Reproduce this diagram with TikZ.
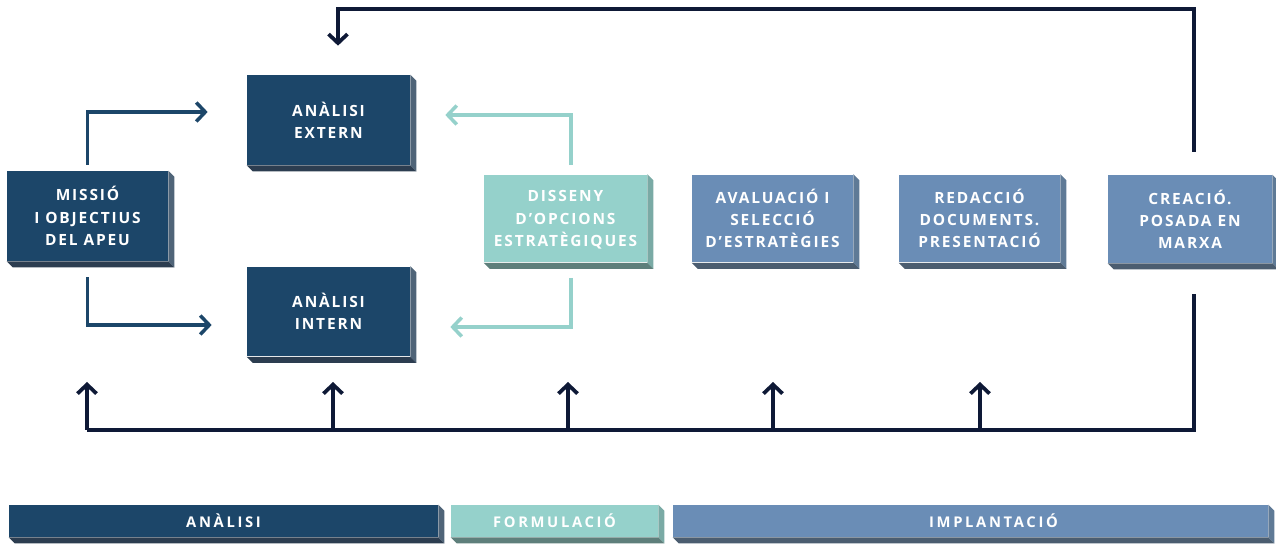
\documentclass[tikz,border=0pt]{standalone}
\usepackage{fontspec}
\setmainfont{Open Sans}
\newfontfamily\blocfont{Open Sans}[LetterSpace=12]
\newfontfamily\barfont{Open Sans}[LetterSpace=18]
\usetikzlibrary{arrows.meta,calc}

\definecolor{navy}{HTML}{1C4669}
\definecolor{navyR}{HTML}{4F6478}
\definecolor{navyB}{HTML}{2C3D50}
\definecolor{teal}{HTML}{95D1CB}
\definecolor{tealR}{HTML}{7AAAA5}
\definecolor{tealB}{HTML}{5E7F7B}
\definecolor{steel}{HTML}{6A8DB6}
\definecolor{steelR}{HTML}{5F7A96}
\definecolor{steelB}{HTML}{4B5D70}
\definecolor{ink}{HTML}{0E1936}

% shadow on the right and bottom of a box
\newcommand{\blocshadow}[3]{%
\fill[#2] (#1.north east) -- ++(6,6) -- ($(#1.south east)+(6,6)$) -- (#1.south east) -- cycle;
\fill[#3] (#1.south west) -- (#1.south east) -- ($(#1.south east)+(6,6)$) -- ($(#1.south west)+(6,6)$) -- cycle;
}

\tikzset{
bloc/.style={align=center,inner sep=0pt,text=white,font=\blocfont\bfseries\fontsize{8.8}{12.6}\selectfont,minimum width=3.26cm,minimum height=1.76cm},
bar/.style={inner sep=0pt,text=white,font=\barfont\bfseries\fontsize{8.4}{9}\selectfont,minimum height=.64cm},
navyflow/.style={draw=navy,line width=.07cm,-{Straight Barb[length=1.8mm,width=3.8mm]}},
tealflow/.style={draw=teal,line width=.07cm,-{Straight Barb[length=1.8mm,width=3.8mm]}},
inkflow/.style={draw=ink,line width=.075cm,-{Straight Barb[length=1.8mm,width=3.8mm]}}
}

\begin{document}
\begin{tikzpicture}[x=.02cm,y=-.02cm]
\useasboundingbox (0,0) rectangle (1276,547);

% boxes
\node[bloc,fill=navy,minimum width=3.22cm,minimum height=1.8cm] (missio) at (87.5,216) {MISSIÓ\\I OBJECTIUS\\DEL APEU};
\node[bloc,fill=navy,minimum height=1.8cm] (extern) at (328.5,120) {ANÀLISI\\EXTERN};
\node[bloc,fill=navy,minimum height=1.8cm] (intern) at (328.5,311.5) {ANÀLISI\\INTERN};
\node[bloc,fill=teal,text depth=-.1cm] (disseny) at (565.5,218.5) {DISSENY\\D’OPCIONS\\ESTRATÈGIQUES};
\node[bloc,fill=steel,minimum width=3.22cm] (avaluacio) at (772.5,218.5) {AVALUACIÓ I\\SELECCIÓ\\D’ESTRATÈGIES};
\node[bloc,fill=steel,minimum width=3.22cm] (redaccio) at (979.5,218.5) {REDACCIÓ\\DOCUMENTS.\\PRESENTACIÓ};
\node[bloc,fill=steel,minimum width=3.28cm] (creacio) at (1190,219) {CREACIÓ.\\POSADA EN\\MARXA};

\blocshadow{missio}{navyR}{navyB}
\blocshadow{extern}{navyR}{navyB}
\blocshadow{intern}{navyR}{navyB}
\blocshadow{disseny}{tealR}{tealB}
\blocshadow{avaluacio}{steelR}{steelB}
\blocshadow{redaccio}{steelR}{steelB}
\blocshadow{creacio}{steelR}{steelB}

% phases
\node[bar,fill=navy,minimum width=8.58cm] (analisi) at (223.5,521) {ANÀLISI};
\node[bar,fill=teal,minimum width=4.14cm] (formulacio) at (554.5,521) {FORMULACIÓ};
\node[bar,fill=steel,minimum width=11.9cm] (implantacio) at (970.5,521) {\hspace{.92cm}IMPLANTACIÓ};
\blocshadow{analisi}{navyR}{navyB}
\blocshadow{formulacio}{tealR}{tealB}
\blocshadow{implantacio}{steelR}{steelB}

% arrows to the analysis
\coordinate (ext in) at ($(extern.west)+(-39,-8)$);
\coordinate (int in) at ($(intern.west)+(-35,13.5)$);
\draw[navyflow] ($(missio.north)+(0,-6)$) |- (ext in);
\draw[navyflow] ($(missio.south)+(0,16)$) |- (int in);

\coordinate (ext back) at ($(extern.east)+(35,-5)$);
\coordinate (int back) at ($(intern.east)+(40,15.5)$);
\draw[tealflow] ($(disseny.north)+(5.5,-9)$) |- (ext back);
\draw[tealflow] ($(disseny.south)+(5.5,15)$) |- (int back);

% feedback
\coordinate (ext top) at ($(extern.north)+(9.5,-29)$);
\draw[inkflow] ($(creacio.north)+(4,-23)$) -- ++(0,-143) -| (ext top);

\coordinate (base) at (87,430);
\draw[inkflow,-] ($(creacio.south)+(4,31)$) |- (base);
\foreach \n/\dx in {missio/-.5,intern/4.5,disseny/2.5,avaluacio/.5,redaccio/.5}
  \draw[inkflow] ($(\n.south |- base)+(\dx,0)$) -- ++(0,-48);

\end{tikzpicture}
\end{document}
